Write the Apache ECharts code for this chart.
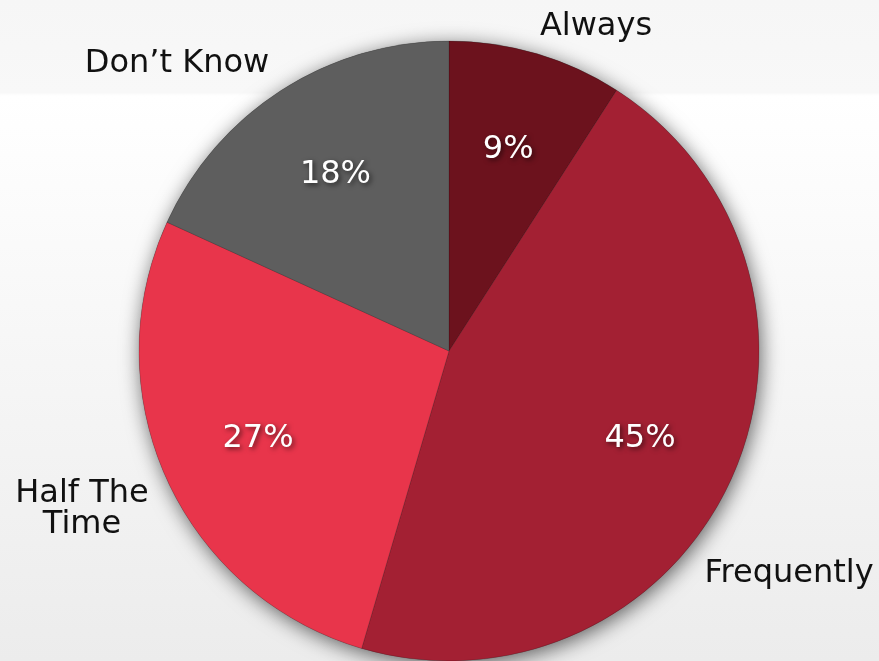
<!DOCTYPE html>
<html>
<head>
<meta charset="utf-8">
<script src="https://cdn.jsdelivr.net/npm/echarts@6/dist/echarts.min.js"></script>
<style>
  html, body { margin: 0; padding: 0; }
  #chart { width: 879px; height: 661px; }
</style>
</head>
<body>
<div id="chart"></div>
<script>
const categories = ["Always", "Frequently", "Half The Time", "Don\u2019t Know"];
const shares = [9, 45, 27, 18];
const sliceColors = ["#6c121d", "#a32033", "#e8354b", "#5e5e5e"];

// where the category names sit, by data index
const namePos = [
  [596, 27],
  [789, 574],
  [82, 509],
  [177, 64]
];

const chart = echarts.init(document.getElementById("chart"));
const font = "DejaVu Sans";

chart.setOption({
  backgroundColor: {
    type: "linear", x: 0, y: 0, x2: 0, y2: 1,
    colorStops: [
      { offset: 0, color: "#f6f6f6" },
      { offset: 0.14, color: "#f8f8f8" },
      { offset: 0.145, color: "#ffffff" },
      { offset: 1, color: "#ececec" }
    ]
  },
  animation: false,
  series: [
    {
      // shadow disc under the slices
      type: "pie",
      silent: true,
      z: 1,
      center: [449, 351],
      radius: 310,
      label: { show: false },
      labelLine: { show: false },
      itemStyle: {
        color: "#666",
        shadowBlur: 20,
        shadowColor: "rgba(0,0,0,0.6)",
        shadowOffsetX: 2,
        shadowOffsetY: 4
      },
      data: [{ value: 1 }]
    },
    {
      type: "pie",
      z: 2,
      center: [449, 351],
      radius: 310,
      startAngle: 90,
      clockwise: true,
      itemStyle: { borderColor: "rgba(0,0,0,0.25)", borderWidth: 0.6 },
      label: {
        show: true,
        position: "outside",
        color: "#111",
        fontFamily: font,
        fontSize: 32,
        lineHeight: 31,
        overflow: "none",
        width: 300,
        align: "center",
        formatter: (p) => p.name === "Half The Time" ? "Half The\nTime" : p.name
      },
      labelLine: { show: false },
      labelLayout: (p) => ({
        x: namePos[p.dataIndex][0],
        y: namePos[p.dataIndex][1],
        align: "center",
        verticalAlign: "middle"
      }),
      data: categories.map((c, i) => ({
        name: c,
        value: shares[i],
        itemStyle: { color: sliceColors[i] }
      }))
    },
    {
      // transparent ring carrying the percentage labels
      type: "pie",
      z: 3,
      silent: true,
      center: [449, 351],
      radius: [104, 310],
      startAngle: 90,
      clockwise: true,
      itemStyle: { color: "rgba(0,0,0,0)" },
      label: {
        show: true,
        position: "inside",
        formatter: "{c}%",
        color: "#fff",
        fontFamily: font,
        fontSize: 32,
        textShadowColor: "rgba(0,0,0,0.6)",
        textShadowBlur: 5,
        textShadowOffsetX: 2,
        textShadowOffsetY: 2
      },
      labelLine: { show: false },
      data: categories.map((c, i) => ({ name: c, value: shares[i] }))
    }
  ]
});
</script>
</body>
</html>
